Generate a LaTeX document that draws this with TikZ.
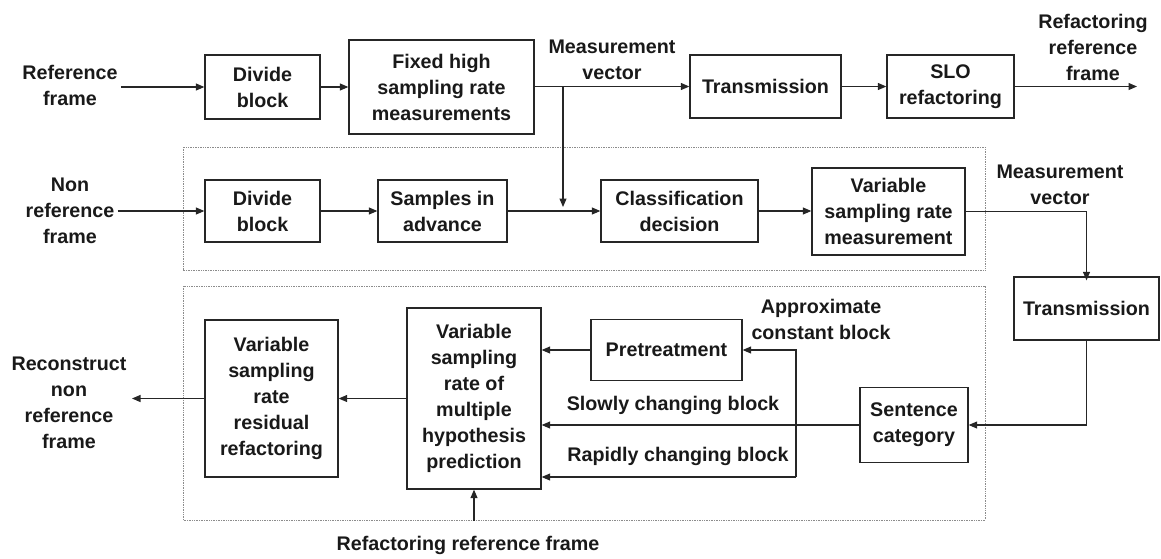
\documentclass[tikz,border=0pt]{standalone}
\usepackage{fontspec}
\setmainfont{Liberation Sans}
\usetikzlibrary{arrows.meta}
\begin{document}
\begin{tikzpicture}[x=1pt,y=-1pt,
  every node/.style={font=\fontsize{19.7}{26}\selectfont\bfseries, text=black!90, align=center},
  blk/.style={draw=black!85, line width=1.3pt, inner sep=0pt, fill=white},
  lbl/.style={inner sep=3pt},
  arr/.style={line width=1.1pt, draw=black!85, -{Triangle[length=8.5pt,width=7pt]}},
  grp/.style={draw=black!45, line width=0.7pt, densely dotted}]
\useasboundingbox (0,0) rectangle (1161,558);
% group frames
\draw[grp] (183,147) rectangle (985,270);
\draw[grp] (183,286) rectangle (985,520);
% row 1
\node[lbl] (ref) at (70,85) {Reference\\frame};
\node[blk, minimum width=115pt, minimum height=64pt] (div1) at (262.5,87) {Divide\\block};
\node[blk, minimum width=185pt, minimum height=94pt] (fix) at (441.5,87) {Fixed high\\sampling rate\\measurements};
\node[lbl] (meas1) at (612,60) {Measurement\\vector};
\node[blk, minimum width=151pt, minimum height=63pt] (tr1) at (765.5,86.5) {Transmission};
\node[blk, minimum width=127pt, minimum height=63pt] (slo) at (950.5,86.5) {SLO\\refactoring};
\node[lbl] (refout) at (1093,47) {Refactoring\\reference\\frame};
\coordinate (out1) at (1137,86.5);
\coordinate (br) at (563,86.5);
\coordinate (brend) at (563,207);
% row 2
\node[lbl] (nonref) at (70,211) {Non\\reference\\frame};
\node[blk, minimum width=115pt, minimum height=62pt] (div2) at (262.5,211) {Divide\\block};
\node[blk, minimum width=129pt, minimum height=62pt] (samp) at (442.5,211) {Samples in\\advance};
\node[blk, minimum width=157pt, minimum height=62pt] (cls) at (679.5,211) {Classification\\decision};
\node[blk, minimum width=153pt, minimum height=87pt] (vsr) at (888.5,211.5) {Variable\\sampling rate\\measurement};
\node[lbl] (meas2) at (1060,185) {Measurement\\vector};
\node[blk, minimum width=145pt, minimum height=63pt] (tr2) at (1086.5,308.5) {Transmission};
% row 3
\node[blk, minimum width=151pt, minimum height=61pt] (pre) at (666.5,350) {Pretreatment};
\node[blk, minimum width=134pt, minimum height=181pt] (multi) at (474,398.5) {Variable\\sampling\\rate of\\multiple\\hypothesis\\prediction};
\node[blk, minimum width=133pt, minimum height=157pt] (resid) at (271.5,398.5) {Variable\\sampling\\rate\\residual\\refactoring};
\node[blk, minimum width=108pt, minimum height=75pt] (sent) at (914,425) {Sentence\\category};
\node[lbl] (recon) at (69,403) {Reconstruct\\non\\reference\\frame};
\node[lbl] (bot) at (468,545) {Refactoring reference frame};
\node[lbl] (approx) at (821,319) {Approximate\\constant block};
\node[lbl] (slow) at (673,405) {Slowly changing block};
\node[lbl] (rapid) at (678,456) {Rapidly changing block};
\coordinate (brT) at (796,350);
\coordinate (brB) at (796,477);
\coordinate (recout) at (132,398.5);
\coordinate (bstart) at (474,521);
% connectors row 1
\draw[arr] (ref.east |- div1.west) -- (div1.west);
\draw[arr] (div1) -- (fix.west |- div1);
\draw[arr] (fix.east |- tr1.west) -- (tr1.west);
\draw[arr] (tr1) -- (slo);
\draw[arr] (slo.east) -- (out1);
\draw[arr] (br) -- (brend);
% row 2
\draw[arr] (nonref.east |- div2.west) -- (div2.west);
\draw[arr] (div2) -- (samp);
\draw[arr] (samp) -- (cls);
\draw[arr] (cls) -- (vsr.west |- cls);
\draw[arr] (vsr.east) -| ([yshift=-4pt]tr2.north);
\draw[arr] (tr2.south) |- (sent.east);
% row 3
\draw[arr] (sent.west) -- (multi.east |- sent.west);
\draw[arr] (brB) -- (brT) -- (pre.east);
\draw[arr] (brB) -- (multi.east |- brB);
\draw[arr] (pre.west) -- (multi.east |- pre.west);
\draw[arr] (multi.west |- resid.east) -- (resid.east);
\draw[arr] (resid.west) -- (recout);
\draw[arr] (bstart) -- (multi.south);
\end{tikzpicture}
\end{document}
